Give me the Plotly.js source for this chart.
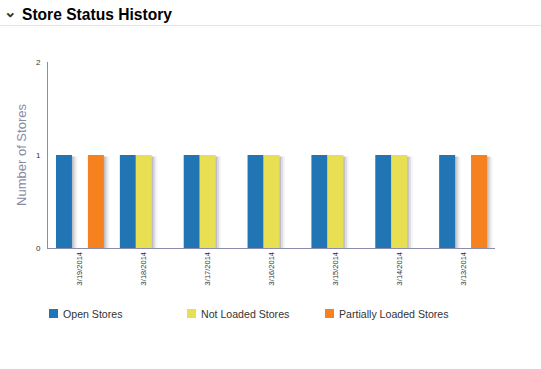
<!DOCTYPE html>
<html><head><meta charset="utf-8">
<script src="https://cdn.plot.ly/plotly-3.0.1.min.js"></script>
<style>html,body{margin:0;padding:0;background:#fff}#chart{width:541px;height:369px}</style>
</head><body><div id="chart"></div>
<script>
const dates = ["3/19/2014","3/18/2014","3/17/2014","3/16/2014","3/15/2014","3/14/2014","3/13/2014"];
const openStores = [1,1,1,1,1,1,1];
const notLoadedStores = [null,1,1,1,1,1,null];
const partiallyLoadedStores = [1,null,null,null,null,null,1];
const seriesNames = ["Open Stores","Not Loaded Stores","Partially Loaded Stores"];
const colors = ["#2275b5","#e8df52","#f5821f"];

const W=541,H=369,L=48,R=495,T=62,B=248;
const px = x => (x-L)/(R-L);
const py = y => (B-y)/(B-T);
const unitPx = (R-L)/dates.length;       // px per category
const slot = 0.25;                        // bar width in category units
const offsets = [-0.375,-0.125,0.125];
const series = [openStores, notLoadedStores, partiallyLoadedStores];

// shadows (drawn first, under the bars)
const shadowLayers = [{dx:1.5, c:'rgba(110,110,130,0.28)'},{dx:3.5, c:'rgba(110,110,130,0.18)'},{dx:5.5, c:'rgba(110,110,130,0.08)'}];
const shadows = [];
series.forEach((v,i)=>{
  shadowLayers.forEach(s=>{
    shadows.push({type:'bar', x:dates, y:v.map(d=>d==null?null:d*0.985), offset:offsets[i]+s.dx/unitPx, width:slot,
      marker:{color:s.c, line:{width:0}}, hoverinfo:'none', showlegend:false});
  });
});
const bars = series.map((v,i)=>({
  type:'bar', x:dates, y:v, name:seriesNames[i], offset:offsets[i], width:slot,
  marker:{color:colors[i], line:{width:0}}, hoverinfo:'none', showlegend:false
}));

// custom legend
const legendX = [49,187,325];
const legendShapes = seriesNames.map((n,i)=>({type:'rect', xref:'paper', yref:'paper',
  x0:px(legendX[i]), x1:px(legendX[i]+9), y0:py(309), y1:py(318),
  fillcolor:colors[i], line:{width:0}}));
const legendAnn = seriesNames.map((n,i)=>({text:n, xref:'paper', yref:'paper',
  x:px(legendX[i]+12), y:py(313.5), xanchor:'left', yanchor:'middle', showarrow:false,
  font:{size:10.6, color:'#333'}}));

const layout = {
  width:W, height:H,
  margin:{l:L, r:W-R, t:T, b:H-B, pad:0},
  paper_bgcolor:'#fff', plot_bgcolor:'#fff',
  barmode:'overlay',
  font:{family:'Liberation Sans, Arial, sans-serif', color:'#333'},
  title:{text:'Store Status History', x:22/W, xanchor:'left', xref:'container',
         y:1-15/H, yanchor:'middle', yref:'container',
         font:{size:15.6, color:'#000', family:'Liberation Sans, Arial, sans-serif', weight:'bold'}},
  xaxis:{type:'category', showline:true, linecolor:'#8c8cac', linewidth:1,
         showgrid:false, zeroline:false, ticks:'', tickangle:-90,
         tickfont:{size:7.5, color:'#333'}, fixedrange:true},
  yaxis:{range:[0,2], dtick:1, showline:true, linecolor:'#8c8cac', linewidth:1,
         showgrid:false, zeroline:false, ticks:'', ticklabelstandoff:5,
         tickfont:{size:8, color:'#333'},
         title:{text:'Number of Stores', font:{size:13, color:'#8a8aa6'}, standoff:6}},
  showlegend:false,
  annotations:[{text:'<b>⌄</b>', xref:'paper', yref:'paper', x:px(10.5), y:py(11), showarrow:false,
                font:{size:15,color:'#333'}, xanchor:'center', yanchor:'middle'}].concat(legendAnn),
  shapes:[{type:'line', xref:'paper', yref:'paper', x0:px(0), x1:px(541), y0:py(25.5), y1:py(25.5),
           line:{color:'#e4e4e4', width:1}}].concat(legendShapes)
};
Plotly.newPlot('chart', shadows.concat(bars), layout, {displayModeBar:false, staticPlot:true});
</script></body></html>
